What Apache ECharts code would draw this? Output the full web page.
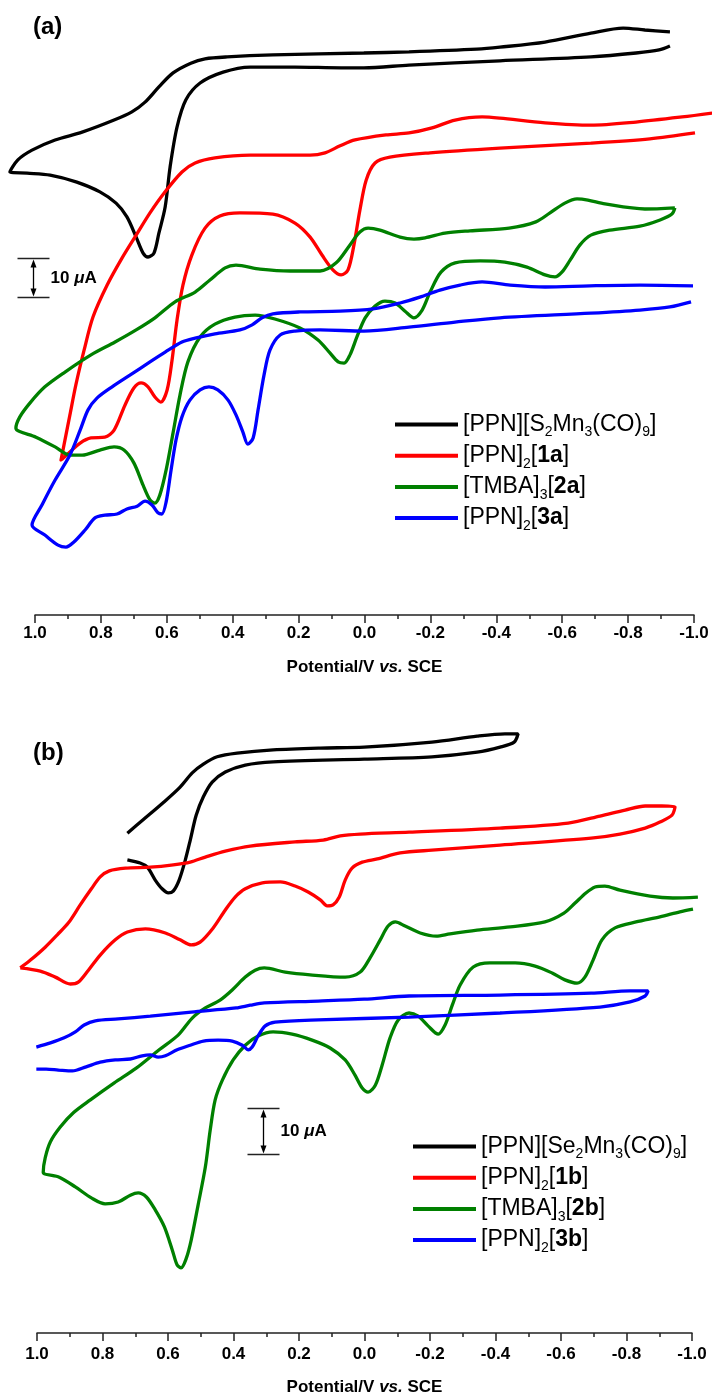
<!DOCTYPE html>
<html>
<head>
<meta charset="utf-8">
<script src="https://cdn.jsdelivr.net/npm/echarts@6/dist/echarts.min.js"></script>
<style>
  html, body { margin: 0; padding: 0; background: #ffffff; }
  #chart { width: 712px; height: 1397px; }
</style>
</head>
<body>
<div id="chart"></div>
<script>
// Cyclic voltammograms, potential (V vs. SCE) against current (uA, traces offset).

// ---- panel (a): sulfur clusters ----
const cvS2Mn3 = [
  [-0.927,149.5],[-0.851,150.0],[-0.785,150.5],[-0.687,149.2],[-0.548,146.9],[-0.411,145.6],
  [-0.341,145.1],[-0.135,144.4],[0.002,144.1],[0.278,143.6],[0.417,143.1],[0.484,142.6],
  [0.527,141.5],[0.581,139.0],[0.624,135.4],[0.666,131.5],[0.706,129.0],[0.760,126.9],
  [0.857,123.8],[0.939,121.8],[1.009,119.2],[1.052,116.7],[1.076,113.6],
  [1.024,113.3],[0.954,112.8],[0.873,111.0],[0.803,108.5],[0.754,105.6],[0.721,102.1],
  [0.693,96.9],[0.672,92.8],[0.657,91.8],[0.639,92.8],[0.624,97.9],[0.605,104.6],
  [0.590,114.9],[0.569,125.1],[0.542,132.1],[0.499,136.4],[0.429,139.2],[0.347,140.5],
  [0.211,140.5],[0.071,140.3],[0.002,140.3],[-0.135,141.0],[-0.411,142.1],[-0.687,143.1],
  [-0.824,144.1],[-0.894,144.9],[-0.927,145.9]
];
const cv1a = [
  [-1.055,128.7],[-0.964,127.7],[-0.824,126.4],[-0.687,125.6],[-0.548,126.2],[-0.411,127.4],
  [-0.357,127.7],[-0.275,126.9],[-0.205,124.9],[-0.135,123.6],[-0.065,123.1],[0.029,121.8],
  [0.074,120.3],[0.120,118.5],[0.165,117.9],[0.347,117.9],[0.454,117.2],[0.514,115.9],
  [0.554,113.6],[0.608,108.2],[0.651,103.1],[0.693,97.4],[0.736,91.5],[0.781,84.6],
  [0.824,76.4],[0.851,67.9],[0.876,59.0],[0.894,51.3],[0.909,44.9],[0.921,39.7],
  [0.894,41.8],[0.863,44.1],[0.830,45.4],[0.788,45.6],[0.760,47.4],[0.727,53.8],
  [0.700,58.2],[0.678,59.5],[0.657,58.5],[0.636,55.9],[0.618,54.6],[0.599,57.7],
  [0.584,65.4],[0.569,75.6],[0.551,84.6],[0.524,92.3],[0.484,99.2],[0.439,102.3],
  [0.378,103.1],[0.278,102.8],[0.211,100.5],[0.165,96.9],[0.129,92.3],[0.096,88.5],
  [0.071,87.2],[0.050,88.5],[0.032,94.9],[0.014,103.8],[-0.005,111.5],[-0.032,115.9],
  [-0.077,117.4],[-0.199,118.5],[-0.411,119.7],[-0.687,121.0],[-0.866,122.1],[-1.003,123.6]
];
const cv2a = [
  [-0.942,104.4],[-0.851,104.1],[-0.730,105.4],[-0.678,106.4],[-0.645,106.7],[-0.608,105.6],
  [-0.563,103.1],[-0.520,100.8],[-0.439,99.2],[-0.320,98.5],[-0.244,97.9],[-0.184,96.7],
  [-0.150,96.4],[-0.108,96.9],[-0.047,98.7],[-0.011,99.2],[0.014,98.2],[0.044,94.9],
  [0.086,90.3],[0.135,88.2],[0.226,88.2],[0.317,88.7],[0.390,89.7],[0.423,89.0],
  [0.469,85.9],[0.514,82.8],[0.575,80.3],[0.636,76.2],[0.693,73.1],[0.757,70.0],
  [0.830,66.7],[0.909,62.3],[0.970,58.5],[1.015,54.4],[1.046,50.8],[1.058,47.9],
  [0.997,45.6],[0.939,43.1],[0.894,41.0],[0.857,41.0],[0.803,42.3],[0.760,43.1],
  [0.730,42.3],[0.700,39.0],[0.672,33.3],[0.651,29.5],[0.636,28.7],[0.621,30.8],
  [0.602,37.2],[0.581,46.7],[0.560,56.4],[0.536,64.9],[0.499,71.3],[0.454,74.6],
  [0.393,76.4],[0.332,76.9],[0.272,75.9],[0.196,73.6],[0.141,70.5],[0.105,67.2],
  [0.080,64.9],[0.062,64.6],[0.044,66.7],[0.023,71.3],[-0.002,76.2],[-0.032,79.2],
  [-0.062,80.5],[-0.093,80.0],[-0.123,77.9],[-0.150,76.2],[-0.175,78.2],[-0.199,82.8],
  [-0.232,87.9],[-0.275,90.3],[-0.351,90.8],[-0.426,90.5],[-0.493,89.2],[-0.548,87.2],
  [-0.578,86.7],[-0.599,87.9],[-0.624,91.0],[-0.654,94.9],[-0.687,97.4],[-0.745,98.7],
  [-0.836,99.7],[-0.897,101.3],[-0.933,102.8],[-0.942,104.4]
];
const cv3a = [
  [-0.997,84.4],[-0.836,84.6],[-0.684,84.4],[-0.548,84.1],[-0.442,84.6],[-0.357,85.4],
  [-0.290,84.6],[-0.229,83.3],[-0.168,81.5],[-0.108,80.0],[-0.026,78.5],[0.074,77.9],
  [0.196,77.7],[0.278,77.2],[0.311,76.2],[0.341,74.4],[0.378,73.1],[0.454,72.1],
  [0.514,71.0],[0.554,70.0],[0.605,67.4],[0.651,64.9],[0.712,61.5],[0.766,58.5],
  [0.812,55.6],[0.839,52.6],[0.863,47.4],[0.894,41.0],[0.939,34.6],[0.979,28.2],
  [1.009,23.1],
  [0.970,20.5],[0.930,17.9],[0.906,17.4],[0.882,18.7],[0.848,21.8],[0.818,24.9],
  [0.788,25.6],[0.751,25.9],[0.721,27.2],[0.690,27.9],[0.666,29.2],[0.645,28.2],
  [0.627,26.2],[0.615,25.9],[0.602,29.0],[0.587,37.2],[0.572,44.9],[0.554,50.8],
  [0.530,55.1],[0.499,57.7],[0.472,58.5],[0.445,57.7],[0.414,55.1],[0.390,51.3],
  [0.369,46.9],[0.354,43.8],[0.338,45.4],[0.323,52.6],[0.305,61.5],[0.287,67.9],
  [0.256,71.8],[0.211,72.8],[0.135,73.1],[0.002,72.8],[-0.135,73.8],[-0.275,75.1],
  [-0.411,76.2],[-0.687,77.4],[-0.836,78.2],[-0.927,79.0],[-0.991,80.3]
];

// ---- panel (b): selenium clusters ----
const cvSe2Mn3 = [
  [0.724,109.1],[0.676,112.0],[0.615,115.7],[0.563,119.1],[0.526,122.2],[0.492,124.1],
  [0.450,125.7],[0.389,126.5],[0.279,127.2],[0.135,127.6],[0.001,127.8],[-0.206,128.9],
  [-0.344,130.2],[-0.429,130.7],[-0.469,130.7],
  [-0.457,128.9],[-0.414,127.8],[-0.344,126.7],[-0.206,125.7],[0.001,125.2],[0.279,124.6],
  [0.364,123.9],[0.425,122.4],[0.465,120.2],[0.492,117.0],[0.514,113.0],[0.532,107.6],
  [0.547,103.3],[0.566,98.9],[0.584,96.5],[0.599,96.1],[0.618,97.0],[0.639,98.9],
  [0.663,101.7],[0.685,102.6],[0.724,103.3]
];
const cv1b = [
  [1.051,79.8],[1.020,81.5],[0.975,84.3],[0.938,87.0],[0.904,89.6],[0.868,93.5],
  [0.834,97.0],[0.807,99.6],[0.779,100.9],[0.730,101.5],[0.654,101.7],[0.584,102.2],
  [0.532,102.8],[0.486,103.9],[0.425,105.2],[0.349,106.3],[0.212,107.2],[0.126,107.6],
  [0.074,108.5],[0.013,108.9],[-0.136,109.3],[-0.414,110.2],[-0.622,111.3],[-0.719,112.8],
  [-0.796,114.1],[-0.857,115.0],[-0.908,115.0],[-0.948,114.8],
  [-0.939,113.0],[-0.902,111.5],[-0.857,110.2],[-0.780,108.9],[-0.692,108.0],[-0.414,106.5],
  [-0.206,105.4],[-0.109,104.8],[-0.039,103.5],[0.007,102.8],[0.038,101.5],[0.059,98.9],
  [0.077,95.2],[0.096,93.5],[0.114,93.3],[0.135,94.6],[0.172,96.3],[0.212,97.6],
  [0.257,98.5],[0.312,98.3],[0.364,97.0],[0.395,95.2],[0.425,92.4],[0.462,88.5],
  [0.502,85.4],[0.529,84.8],[0.563,85.9],[0.608,87.4],[0.669,88.3],[0.724,87.6],
  [0.761,85.9],[0.807,82.6],[0.843,79.3],[0.874,76.7],[0.898,76.3],[0.944,77.8],
  [0.990,79.1],[1.051,79.8]
];
const cv2b = [
  [-1.018,95.2],[-0.942,95.0],[-0.872,95.4],[-0.780,96.7],[-0.734,97.6],[-0.704,97.4],
  [-0.676,96.1],[-0.643,93.9],[-0.609,91.7],[-0.551,89.8],[-0.445,88.7],[-0.344,88.0],
  [-0.261,87.2],[-0.219,86.7],[-0.170,87.4],[-0.124,88.9],[-0.094,89.8],[-0.072,88.9],
  [-0.048,85.9],[-0.017,82.0],[0.013,78.9],[0.059,77.8],[0.166,78.3],[0.242,78.9],
  [0.306,79.8],[0.334,79.3],[0.364,77.8],[0.404,75.0],[0.441,72.8],[0.486,71.1],
  [0.526,68.9],[0.569,65.2],[0.627,62.0],[0.697,58.0],[0.764,54.8],[0.837,51.1],
  [0.889,48.3],[0.929,45.2],[0.959,42.0],[0.975,38.5],[0.981,35.4],
  [0.932,34.3],[0.883,32.2],[0.834,29.8],[0.792,28.5],[0.752,28.9],[0.715,30.4],
  [0.691,30.9],[0.666,30.0],[0.639,27.2],[0.611,23.5],[0.587,18.5],[0.572,15.2],
  [0.560,14.6],[0.544,16.7],[0.529,20.7],[0.508,28.3],[0.486,36.5],[0.471,44.6],
  [0.456,51.1],[0.434,55.4],[0.401,59.8],[0.364,63.0],[0.325,65.0],[0.279,65.9],
  [0.221,65.4],[0.160,64.1],[0.105,62.4],[0.059,59.8],[0.029,56.5],[0.007,53.7],
  [-0.011,52.8],[-0.033,54.3],[-0.054,58.7],[-0.078,64.6],[-0.103,68.5],[-0.136,70.0],
  [-0.164,69.3],[-0.194,67.2],[-0.225,65.4],[-0.246,67.4],[-0.268,71.7],[-0.292,76.1],
  [-0.332,80.0],[-0.383,80.9],[-0.460,80.9],[-0.521,80.2],[-0.573,78.7],[-0.612,77.2],
  [-0.649,76.5],[-0.673,77.8],[-0.698,81.5],[-0.725,85.9],[-0.765,88.5],[-0.829,89.8],
  [-0.902,90.9],[-0.963,92.0],[-1.003,92.6]
];
const cv3b = [
  [1.002,62.6],[0.959,63.5],[0.917,64.6],[0.883,65.9],[0.856,67.4],[0.822,68.3],
  [0.752,68.7],[0.654,69.3],[0.529,70.2],[0.392,71.1],[0.349,71.7],[0.306,72.2],
  [0.141,72.6],[0.001,73.0],[-0.136,73.7],[-0.414,73.9],[-0.692,74.3],[-0.811,74.8],
  [-0.866,74.8],
  [-0.857,73.7],[-0.811,72.4],[-0.719,71.3],[-0.414,70.0],[-0.136,69.1],[0.141,68.5],
  [0.273,68.0],[0.303,67.2],[0.325,65.0],[0.343,62.6],[0.355,62.0],[0.373,63.0],
  [0.404,63.9],[0.447,64.1],[0.492,63.9],[0.532,63.0],[0.572,62.0],[0.608,60.7],
  [0.630,60.4],[0.654,60.9],[0.679,60.7],[0.715,60.0],[0.761,59.8],[0.807,59.3],
  [0.850,58.3],[0.892,57.4],[0.935,57.6],[0.972,57.8],[1.002,57.8]
];

// legend entries (name -> rich label) and trace colours
const namesA = ['S2Mn3', '1a', '2a', '3a'];
const namesB = ['Se2Mn3', '1b', '2b', '3b'];
const legendText = {
  'S2Mn3':  '{n|[PPN][S}{s|2}{n|Mn}{s|3}{n|(CO)}{s|9}{n|]}',
  '1a':     '{n|[PPN]}{s|2}{n|[}{b|1a}{n|]}',
  '2a':     '{n|[TMBA]}{s|3}{n|[}{b|2a}{n|]}',
  '3a':     '{n|[PPN]}{s|2}{n|[}{b|3a}{n|]}',
  'Se2Mn3': '{n|[PPN][Se}{s|2}{n|Mn}{s|3}{n|(CO)}{s|9}{n|]}',
  '1b':     '{n|[PPN]}{s|2}{n|[}{b|1b}{n|]}',
  '2b':     '{n|[TMBA]}{s|3}{n|[}{b|2b}{n|]}',
  '3b':     '{n|[PPN]}{s|2}{n|[}{b|3b}{n|]}'
};
const colors = ['#000000', '#ff0000', '#008000', '#0000ff'];
const seriesA = [cvS2Mn3, cv1a, cv2a, cv3a];
const seriesB = [cvSe2Mn3, cv1b, cv2b, cv3b];

// 10 uA scale bar anchors: [potential, current at bar bottom]
const scaleBarA = [1.006, 81.5];
const scaleBarB = [0.309, 39.3];
const scaleBarSpan = 10;

const FONT = '"Liberation Sans", Arial, sans-serif';
const AXIS_COLOR = '#222';

// Each panel: a visible potential axis spanning 1.0 .. -1.0, and a wider
// plotting frame (same px per volt) so sweeps may run a little past the ends.
const panelA = { left: 35, width: 659, top: 15, height: 600, pxPerUA: 3.9, labelMargin: 10, nameGap: 44 };
const panelB = { left: 37, width: 655, top: 700, height: 635, pxPerUA: 4.6, labelMargin: 13, nameGap: 46 };
const PLOT_MAX_V = 1.09;   // anodic end of the plotting frame
const PLOT_MIN_V = -1.05;  // cathodic end of the plotting frame

function axisGrid(p) {
  return { left: p.left, width: p.width, top: p.top, height: p.height };
}
function plotGrid(p) {
  const pxPerV = p.width / 2;
  return {
    left: p.left - (PLOT_MAX_V - 1) * pxPerV,
    width: (PLOT_MAX_V - PLOT_MIN_V) * pxPerV,
    top: p.top, height: p.height
  };
}

function visibleXAxis(gridIndex, p) {
  return {
    type: 'value', gridIndex, inverse: true, min: -1, max: 1, interval: 0.2,
    name: '{b|Potential/V }{bi|vs.}{b| SCE}',
    nameLocation: 'middle', nameGap: p.nameGap,
    nameTextStyle: {
      rich: {
        b: { fontFamily: FONT, fontSize: 17, fontWeight: 'bold', color: '#000' },
        bi: { fontFamily: FONT, fontSize: 17, fontWeight: 'bold', fontStyle: 'italic', color: '#000' }
      }
    },
    axisLine: { show: true, onZero: false, lineStyle: { color: AXIS_COLOR, width: 1.5 } },
    axisTick: { show: true, inside: false, length: 8, lineStyle: { color: AXIS_COLOR, width: 1.5 } },
    minorTick: { show: true, splitNumber: 2, length: 4, lineStyle: { color: AXIS_COLOR, width: 1.5 } },
    splitLine: { show: false },
    axisLabel: {
      margin: p.labelMargin, fontFamily: FONT, fontSize: 17, fontWeight: 'bold', color: '#000',
      formatter: v => (Math.abs(v) < 1e-9 ? 0 : v).toFixed(1)
    }
  };
}
function hiddenXAxis(gridIndex) {
  return { type: 'value', gridIndex, inverse: true, min: PLOT_MIN_V, max: PLOT_MAX_V, show: false };
}
function hiddenYAxis(gridIndex, p) {
  return { type: 'value', gridIndex, show: false, min: 0, max: p.height / p.pxPerUA };
}
function legendFor(names, left, top) {
  return {
    data: names, orient: 'vertical', left, top, padding: 0, itemGap: 4.7,
    icon: 'rect', itemWidth: 63, itemHeight: 4, selectedMode: false,
    formatter: name => legendText[name],
    textStyle: {
      color: '#000',
      rich: {
        n: { fontFamily: FONT, fontSize: 23, color: '#000', lineHeight: 30 },
        b: { fontFamily: FONT, fontSize: 23, fontWeight: 'bold', color: '#000', lineHeight: 30 },
        s: { fontFamily: FONT, fontSize: 14, color: '#000', verticalAlign: 'bottom' }
      }
    }
  };
}
function traces(names, dataList, axisIndex) {
  return dataList.map((data, k) => ({
    name: names[k], type: 'line', xAxisIndex: axisIndex, yAxisIndex: axisIndex,
    data, symbol: 'none', showSymbol: false, smooth: 0.3, clip: false,
    lineStyle: { color: colors[k], width: 3.3 }, itemStyle: { color: colors[k] },
    emphasis: { disabled: true }, animation: false
  }));
}

const chart = echarts.init(document.getElementById('chart'), null, { renderer: 'canvas' });
chart.setOption({
  backgroundColor: '#ffffff',
  animation: false,
  title: [
    { text: '(a)', left: 33, top: 15, padding: 0,
      textStyle: { fontFamily: FONT, fontSize: 24, fontWeight: 'bold', color: '#000' } },
    { text: '(b)', left: 33, top: 741, padding: 0,
      textStyle: { fontFamily: FONT, fontSize: 24, fontWeight: 'bold', color: '#000' } }
  ],
  // grid 0/1: panel (a) axis / plot; grid 2/3: panel (b) axis / plot
  grid: [axisGrid(panelA), plotGrid(panelA), axisGrid(panelB), plotGrid(panelB)],
  xAxis: [visibleXAxis(0, panelA), hiddenXAxis(1), visibleXAxis(2, panelB), hiddenXAxis(3)],
  yAxis: [hiddenYAxis(0, panelA), hiddenYAxis(1, panelA), hiddenYAxis(2, panelB), hiddenYAxis(3, panelB)],
  legend: [legendFor(namesA, 395, 413), legendFor(namesB, 413, 1135)],
  series: [...traces(namesA, seriesA, 1), ...traces(namesB, seriesB, 3)]
});

// 10 uA scale bars drawn through each panel's own current scale
function scaleBar(axisIndex, anchor) {
  const finder = { xAxisIndex: axisIndex, yAxisIndex: axisIndex };
  const p0 = chart.convertToPixel(finder, [anchor[0], anchor[1]]);
  const p1 = chart.convertToPixel(finder, [anchor[0], anchor[1] + scaleBarSpan]);
  const x = Math.round(p0[0]) + 0.5;
  const yb = Math.round(p0[1]) + 0.5, yt = Math.round(p1[1]) + 0.5;
  const stroke = { stroke: AXIS_COLOR, lineWidth: 1.5 };
  return [
    { type: 'line', shape: { x1: x - 16, y1: yt, x2: x + 16, y2: yt }, style: stroke, silent: true },
    { type: 'line', shape: { x1: x - 16, y1: yb, x2: x + 16, y2: yb }, style: stroke, silent: true },
    { type: 'line', shape: { x1: x, y1: yt + 6, x2: x, y2: yb - 6 }, style: { stroke: '#000', lineWidth: 1.3 }, silent: true },
    { type: 'polygon', shape: { points: [[x, yt + 1], [x - 3, yt + 9], [x + 3, yt + 9]] }, style: { fill: '#000' }, silent: true },
    { type: 'polygon', shape: { points: [[x, yb - 1], [x - 3, yb - 9], [x + 3, yb - 9]] }, style: { fill: '#000' }, silent: true },
    { type: 'text', x: x + 17, y: (yt + yb) / 2, silent: true,
      style: {
        text: '{b|10 }{i|\u03bc}{b|A}', verticalAlign: 'middle', align: 'left',
        rich: {
          b: { fontFamily: FONT, fontSize: 17, fontWeight: 'bold', fill: '#000' },
          i: { fontFamily: FONT, fontSize: 17, fontWeight: 'bold', fontStyle: 'italic', fill: '#000' }
        }
      } }
  ];
}
chart.setOption({ graphic: [...scaleBar(1, scaleBarA), ...scaleBar(3, scaleBarB)] });
</script>
</body>
</html>
